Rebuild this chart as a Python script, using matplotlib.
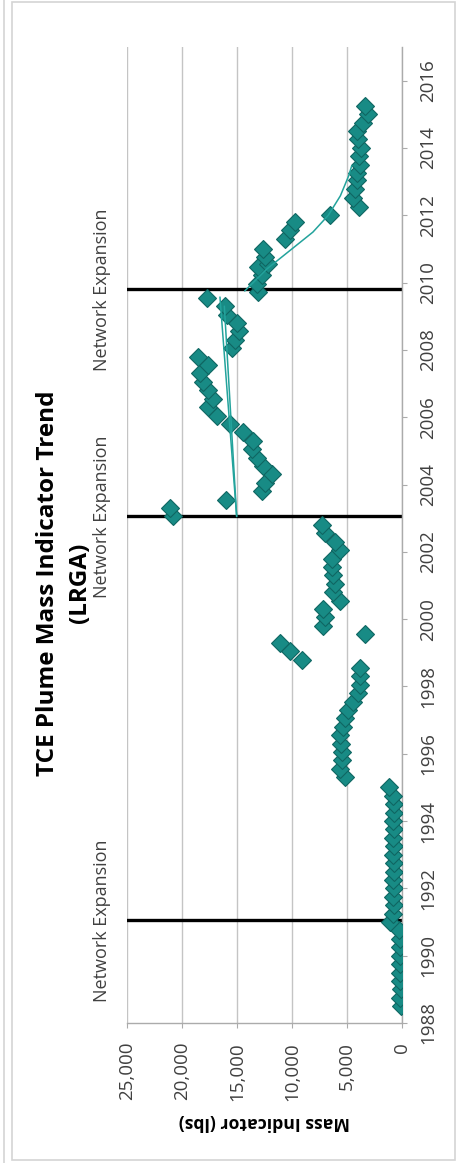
import matplotlib
matplotlib.use("Agg")
import matplotlib.pyplot as plt
from matplotlib.ticker import FuncFormatter, MultipleLocator
from matplotlib.transforms import blended_transform_factory
from matplotlib.patches import Rectangle
from matplotlib.lines import Line2D

plt.rcParams['font.family'] = ['Open Sans', 'DejaVu Sans']

# ---- sampling events (decimal year) and TCE mass indicator (lbs) ----
years_1988_1990 = [1988.50, 1988.75, 1989.00, 1989.25, 1989.50, 1989.75,
                   1990.00, 1990.25, 1990.50, 1990.75]
mass_1988_1990 = [120, 160, 110, 180, 140, 200, 150, 210, 170, 260]

years_1991_1995 = [1991.00, 1991.25, 1991.50, 1991.75, 1992.00, 1992.25,
                   1992.50, 1992.75, 1993.00, 1993.25, 1993.50, 1993.75,
                   1994.00, 1994.25, 1994.50, 1994.75, 1995.00]
mass_1991_1995 = [1050, 820, 760, 800, 740, 810, 770, 720, 790, 750,
                  800, 730, 780, 760, 700, 820, 1200]

years_1995_2003 = [1995.30, 1995.55, 1995.80, 1996.05, 1996.30, 1996.55,
                   1996.80, 1997.05, 1997.30, 1997.55, 1997.80, 1998.05,
                   1998.30, 1998.55, 1998.80, 1999.05, 1999.30, 1999.55,
                   1999.80, 2000.05, 2000.30, 2000.55, 2000.80, 2001.05,
                   2001.30, 2001.55, 2001.80, 2002.05, 2002.30, 2002.55,
                   2002.80]
mass_1995_2003 = [5180, 5640, 5500, 5480, 5550, 5640, 5360, 5200, 4900,
                  4450, 4000, 3800, 3800, 3800, 9120, 10180, 11090, 3360,
                  7180, 7000, 7180, 5630, 6270, 6090, 6270, 6360, 6390,
                  5640, 6090, 7000, 7300]

years_2003_2009 = [2003.05, 2003.30, 2003.55, 2003.80, 2004.05, 2004.30,
                   2004.55, 2004.80, 2005.05, 2005.30, 2005.55, 2005.80,
                   2006.05, 2006.30, 2006.55, 2006.80, 2007.05, 2007.30,
                   2007.55, 2007.80, 2008.05, 2008.30, 2008.55, 2008.80,
                   2009.05, 2009.30, 2009.55]
mass_2003_2009 = [20800, 21090, 16000, 12760, 12450, 11850, 12630, 13200,
                  13660, 13540, 14450, 15630, 16850, 17600, 17180, 17600,
                  18090, 18360, 17600, 18540, 15480, 15180, 14800, 15030,
                  15940, 16090, 17700]

years_2009_2015 = [2009.72, 2009.97, 2010.22, 2010.46, 2010.56, 2010.76,
                   2011.00, 2011.30, 2011.55, 2011.80, 2012.00, 2012.24,
                   2012.50, 2012.78, 2013.05, 2013.27, 2013.50, 2013.75,
                   2014.00, 2014.26, 2014.50, 2014.75, 2015.00, 2015.25]
mass_2009_2015 = [13060, 13210, 12750, 13060, 12150, 12450, 12600, 10640,
                  10180, 9730, 6540, 3900, 4420, 4270, 4050, 4120, 3780,
                  3900, 3700, 3970, 4050, 3550, 3100, 3360]

# trend lines for the two later monitoring networks
trend_a_years = [2003.05, 2009.57]
trend_a_mass = [15030, 16550]
trend_b_years = [2003.05, 2009.30]
trend_b_mass = [15030, 16150]
trend_c_years = [2009.75, 2010.40, 2010.95, 2011.50, 2012.00, 2012.58,
                 2013.17, 2013.47]
trend_c_mass = [14300, 12300, 10200, 8100, 6700, 5600, 4850, 4570]

# monitoring network expansions
expansion_years = [1991.05, 2003.05, 2009.80]
expansion_label = "Network Expansion"

# axis settings
year_ticks = list(range(1988, 2017, 2))
mass_ticks = [0, 5000, 10000, 15000, 20000, 25000]

TEAL = '#188B85'
TEAL_EDGE = '#0F6662'
TREND = '#23A39C'
GRID = '#C4C4C4'
SPINE = '#ABABAB'
TEXT = '#404040'

W, H = 461, 1163
fig = plt.figure(figsize=(W / 100, H / 100), dpi=100)

# chart frame
fig.add_artist(Rectangle((12 / W, 1 - 1160 / H), (455 - 12) / W, (1160 - 2) / H,
                         transform=fig.transFigure, fill=False,
                         edgecolor='#D4D4D4', lw=1.2))
fig.add_artist(Line2D([3.5 / W, 3.5 / W], [0, 1], transform=fig.transFigure,
                      color='#D4D4D4', lw=1.2))

left, right, top, bottom = 127, 402, 47, 1023
ax = fig.add_axes([left / W, 1 - bottom / H, (right - left) / W, (bottom - top) / H])

ax.set_xlim(25000, 0)
ax.set_ylim(1988, 2017)

ax.xaxis.set_major_locator(MultipleLocator(5000))
ax.xaxis.set_major_formatter(FuncFormatter(lambda v, p: f"{int(round(v)):,}"))
ax.set_xticks(mass_ticks)
ax.set_yticks(year_ticks)
ax.yaxis.tick_right()

ax.grid(axis='x', color=GRID, lw=1.0, zorder=0)
ax.set_axisbelow(True)
for side in ('top', 'left'):
    ax.spines[side].set_visible(False)
for side in ('right', 'bottom'):
    ax.spines[side].set_color(SPINE)
    ax.spines[side].set_linewidth(1.0)

ax.tick_params(axis='x', direction='out', length=3.6, width=0.8, color=SPINE,
               labelsize=13.5, labelcolor=TEXT, labelrotation=90, pad=10)
ax.tick_params(axis='y', direction='out', length=3.6, width=0.8, color=SPINE,
               labelsize=13.5, labelcolor=TEXT, labelrotation=90, pad=9,
               left=False, right=True)
for lab in ax.get_yticklabels():
    lab.set_va('center')

# network expansion markers
tr = blended_transform_factory(ax.transAxes, ax.transData)
for yr in expansion_years:
    ax.axhline(yr, color='black', lw=2.4, zorder=2)
    ax.text(-0.092, yr, expansion_label, transform=tr, rotation=90,
            ha='center', va='center', fontsize=13, color=TEXT, clip_on=False)

# sampling results
marker_kw = dict(ls='none', marker='D', ms=9.3, mfc=TEAL, mec=TEAL_EDGE, mew=0.8,
                 zorder=3)
for yrs, vals in [(years_1988_1990, mass_1988_1990),
                  (years_1991_1995, mass_1991_1995),
                  (years_1995_2003, mass_1995_2003),
                  (years_2003_2009, mass_2003_2009),
                  (years_2009_2015, mass_2009_2015)]:
    ax.plot(vals, yrs, **marker_kw)

# trends
for yrs, vals in [(trend_a_years, trend_a_mass),
                  (trend_b_years, trend_b_mass),
                  (trend_c_years, trend_c_mass)]:
    ax.plot(vals, yrs, color=TREND, lw=1.1, zorder=4, solid_capstyle='round')

# titles
fig.text(48 / W, 1 - 583 / H, "TCE Plume Mass Indicator Trend", rotation=90,
         ha='center', va='center', fontsize=17.5, fontweight='bold', color='black')
fig.text(80 / W, 1 - 583 / H, "(LRGA)", rotation=90,
         ha='center', va='center', fontsize=17.5, fontweight='bold', color='black')
fig.text(264.5 / W, 1 - 1122 / H, "Mass Indicator (lbs)", rotation=180,
         ha='center', va='center', fontsize=12.7, fontweight='bold', color='black')

fig.savefig("out.png", dpi=100)
